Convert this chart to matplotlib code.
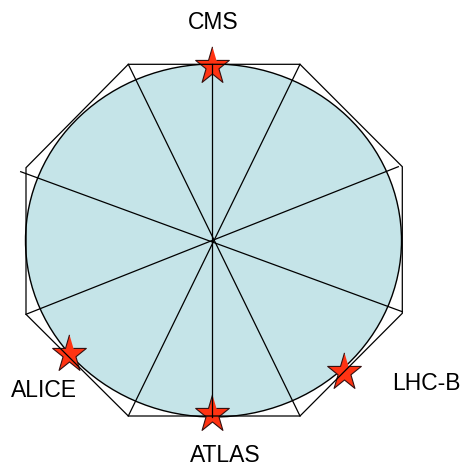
import matplotlib.pyplot as plt
import numpy as np
from matplotlib.patches import Ellipse, Polygon

# ring (pixel coords of the picture, y pointing down)
ring_center = (213.5, 240.5)
ring_radius = (188.0, 176.5)

# octagon around the ring
octagon_x = [128.3, 300.0, 402.3, 402.3, 300.0, 128.3, 26.0, 26.0]
octagon_y = [64.3, 64.3, 166.7, 313.3, 416.0, 416.0, 314.3, 167.7]

# spokes through the centre (start x, start y, end x, end y)
spokes = [
    (212.3, 64.3, 212.3, 416.7),
    (128.3, 64.3, 300.0, 416.0),
    (300.0, 64.3, 128.3, 416.0),
    (20.7, 171.7, 402.3, 311.7),
    (26.0, 314.3, 398.3, 166.7),
]

# detectors
detectors = ["CMS", "ATLAS", "ALICE", "LHC-B"]
det_x = [212.3, 212.3, 69.0, 344.0]
det_y = [66.4, 414.0, 354.0, 371.5]
label_x = [212.7, 225.7, 44.3, 426.7]
label_y = [22.7, 455.0, 390.7, 383.3]

fill_col = "#c5e4e8"
star_col = "#ff3312"


def star_marker(stretch=1.11):
    ang = np.pi / 2 + np.arange(10) * np.pi / 5
    r = np.where(np.arange(10) % 2 == 0, 1.0, 0.382)
    return np.column_stack([r * np.cos(ang), r * np.sin(ang) * stretch])


fig = plt.figure(figsize=(4.64, 4.65), dpi=100)
ax = fig.add_axes([0, 0, 1, 1])
ax.set_xlim(0, 464)
ax.set_ylim(465, 0)
ax.axis("off")

ax.add_patch(Ellipse(ring_center, 2 * ring_radius[0], 2 * ring_radius[1],
                     facecolor=fill_col, edgecolor="black", lw=1.0, zorder=1))

ax.plot(det_x, det_y, ls="none", marker=star_marker(), markersize=28.3,
        markerfacecolor=star_col, markeredgecolor="#331010",
        markeredgewidth=0.8, zorder=2)

ax.add_patch(Polygon(np.column_stack([octagon_x, octagon_y]), closed=True,
                     fill=False, edgecolor="black", lw=0.9, zorder=3))

for x0, y0, x1, y1 in spokes:
    ax.plot([x0, x1], [y0, y1], color="black", lw=0.9, zorder=3)

for name, x, y in zip(detectors, label_x, label_y):
    ax.text(x, y, name, ha="center", va="center", fontsize=16.5,
            family="Liberation Sans", color="black")

fig.savefig("out.png", dpi=100)
